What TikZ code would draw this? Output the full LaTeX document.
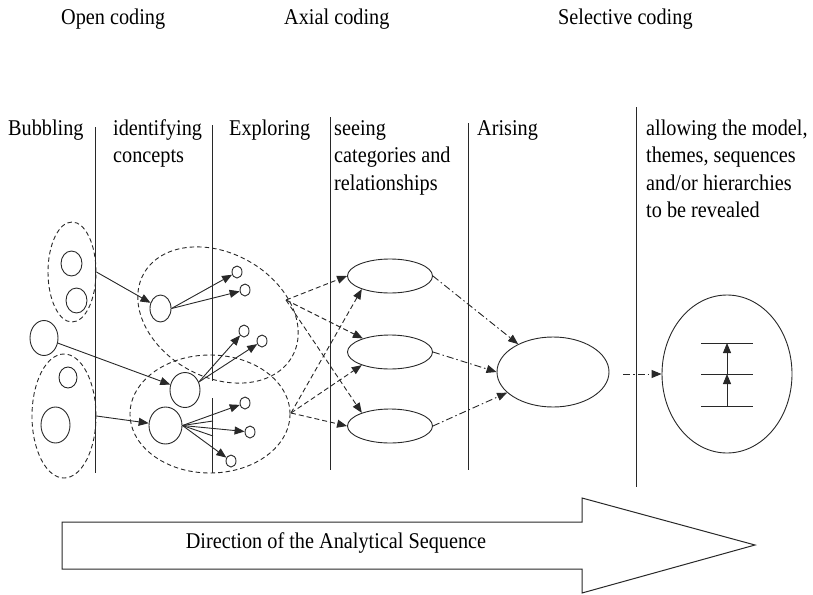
\documentclass[tikz,border=0pt]{standalone}
\usepackage{fontspec}
\setmainfont{Liberation Serif}[FakeStretch=0.9]
\usetikzlibrary{arrows.meta, shapes.geometric}
\definecolor{inkGray}{RGB}{40,40,40}
\tikzset{
    bubble/.style={
        ellipse,
        draw=inkGray,
        line width=0.9pt,
        inner sep=0pt
    },
    groupring/.style={
        ellipse,
        draw=inkGray,
        line width=0.9pt,
        dash pattern=on 4.5pt off 3pt,
        inner sep=0pt
    },
    stageline/.style={draw=inkGray, line width=1pt},
    stagelabel/.style={anchor=base west, align=left, inner sep=0pt, font=\fontsize{22.5}{27.5}\selectfont},
    flowarrow/.style={-{Triangle[length=10pt,width=8pt]}, line width=0.9pt, draw=inkGray},
    linkarrow/.style={flowarrow, dash pattern=on 5pt off 3pt},
    chainarrow/.style={flowarrow, dash pattern=on 7pt off 3pt on 1.5pt off 3pt}
}
\begin{document}
\begin{tikzpicture}[x=1pt, y=-1pt]
        \useasboundingbox (0,0) rectangle (813,594);

        \node[stagelabel] (openhd) at (61,25) {Open coding};
        \node[stagelabel] (axialhd) at (284,25) {Axial coding};
        \node[stagelabel] (selecthd) at (558,25) {Selective coding};

        \node[stagelabel] (bubblehd) at (8,135) {Bubbling};
        \node[stagelabel] (concepthd) at (113,162.5) {identifying\\concepts};
        \node[stagelabel] (explorehd) at (229,135) {Exploring};
        \node[stagelabel] (seeinghd) at (334,190) {seeing\\categories and\\relationships};
        \node[stagelabel] (arisinghd) at (477,135) {Arising};
        \node[stagelabel] (allowhd) at (646,217.5) {allowing the model,\\themes, sequences\\and/or hierarchies\\to be revealed};

        \draw[stageline] (95,127) -- (95,473);
        \draw[stageline] (212,125) -- (212,381);
        \draw[stageline] (212,398) -- (212,473);
        \draw[stageline] (330,117) -- (330,470);
        \draw[stageline] (468,123) -- (468,470);
        \draw[stageline] (636,107) -- (636,487);

        \node[groupring, minimum width=48pt, minimum height=100pt] (bubA) at (72,272) {};
        \node[bubble, minimum width=21pt, minimum height=25pt] (bubA1) at (71.5,263.5) {};
        \node[bubble, minimum width=21pt, minimum height=25pt] (bubA2) at (76.5,300.5) {};
        \node[bubble, minimum width=28pt, minimum height=35pt] (bubL) at (44,338) {};
        \node[groupring, minimum width=64pt, minimum height=124pt] (bubB) at (64,416) {};
        \node[bubble, minimum width=18pt, minimum height=21pt] (bubB1) at (68,377.5) {};
        \node[bubble, minimum width=29pt, minimum height=36pt] (bubB2) at (55.5,425) {};

        \node[groupring, minimum width=170pt, minimum height=124pt, rotate=-29] (grpTop) at (218,315) {};
        \node[groupring, minimum width=160pt, minimum height=118pt] (grpBot) at (210,414) {};

        \node[bubble, minimum width=21pt, minimum height=27pt] (cptA) at (160.5,308.5) {};
        \node[bubble, minimum width=30pt, minimum height=35pt] (cptB) at (185,390) {};
        \node[bubble, minimum width=33pt, minimum height=37pt] (cptC) at (165.5,425.5) {};

        \node[bubble, minimum width=10pt, minimum height=12pt] (expA) at (237,272) {};
        \node[bubble, minimum width=10pt, minimum height=12pt] (expB) at (245,290) {};
        \node[bubble, minimum width=10pt, minimum height=12pt] (expC) at (244,331) {};
        \node[bubble, minimum width=10pt, minimum height=12pt] (expD) at (262,341) {};
        \node[bubble, minimum width=10pt, minimum height=12pt] (expE) at (245,403) {};
        \node[bubble, minimum width=10pt, minimum height=12pt] (expF) at (250,432) {};
        \node[bubble, minimum width=10pt, minimum height=12pt] (expG) at (231,461) {};
        \coordinate (stubA) at (213,421);
        \coordinate (stubB) at (213,436);

        \node[bubble, minimum width=85pt, minimum height=34pt] (catA) at (390,276) {};
        \node[bubble, minimum width=85pt, minimum height=34pt] (catB) at (390,352) {};
        \node[bubble, minimum width=85pt, minimum height=34pt] (catC) at (390,426) {};
        \coordinate (topOut) at (286,300);
        \coordinate (botOut) at (291,413);

        \node[bubble, minimum width=112pt, minimum height=70pt] (core) at (553,372) {};
        \coordinate (coreOut) at (623,374);
        \node[bubble, minimum width=130pt, minimum height=158pt] (model) at (727,374) {};
        \coordinate (tierTop) at (727,343);
        \coordinate (tierMid) at (727,374);
        \coordinate (tierLow) at (727,406);

        \draw[flowarrow] (bubA.east) -- (cptA);
        \draw[flowarrow] (bubL) -- (cptB);
        \draw[flowarrow] (bubB.east) -- (cptC);
        \draw[flowarrow] (cptA.east) -- (expA);
        \draw[flowarrow] (cptA.east) -- (expB);
        \draw[flowarrow] (cptB.30) -- (expC);
        \draw[flowarrow] (cptB.30) -- (expD);
        \draw[flowarrow] (cptC.east) -- (expE);
        \draw[flowarrow] (cptC.east) -- (expF);
        \draw[flowarrow] (cptC.east) -- (expG);
        \draw[stageline, line width=0.9pt] (cptC.east) -- (stubA);
        \draw[stageline, line width=0.9pt] (cptC.east) -- (stubB);

        \draw[linkarrow] (topOut) -- (catA.west);
        \draw[linkarrow] (topOut) -- (catB);
        \draw[linkarrow] (topOut) -- (catC.155);
        \draw[linkarrow] (botOut) -- (catA.205);
        \draw[linkarrow] (botOut) -- (catB.205);
        \draw[linkarrow] (botOut) -- (catC.west);

        \draw[chainarrow] (catA.east) -- (core);
        \draw[chainarrow] (catB.east) -- (core.west);
        \draw[chainarrow] (catC.east) -- (core);
        \draw[chainarrow] (coreOut) -- (model.west);

        \draw[stageline] (701,343) -- (753,343);
        \draw[stageline] (701,374) -- (753,374);
        \draw[stageline] (701,406) -- (753,406);
        \draw[flowarrow] (tierLow) -- (tierMid);
        \draw[flowarrow] (tierMid) -- (tierTop);

        \draw[stageline, fill=white] (62,522) -- (582,522) -- (582,498) -- (755,545) -- (582,593) -- (582,569) -- (62,569) -- cycle;
        \node[stagelabel, anchor=base] (seqlabel) at (336,548) {Direction of the Analytical Sequence};
    \end{tikzpicture}
\end{document}
